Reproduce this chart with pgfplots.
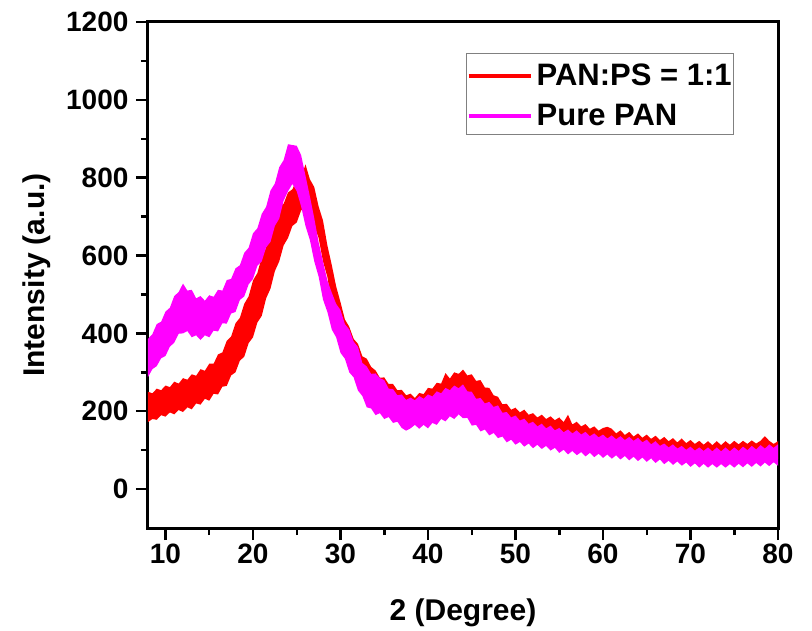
\documentclass[border=0pt]{standalone}
\usepackage{fontspec}
\setmainfont{Liberation Sans}
\usepackage{pgfplots}
\usepackage{pgfplotstable}
\pgfplotsset{compat=1.18}
\usepgfplotslibrary{fillbetween}
\definecolor{pmag}{rgb}{1,0,1}
\definecolor{pred}{rgb}{1,0,0}

\pgfplotstableread{
x ru rl pu pl
8.0 250 172 386 288
8.5 246 180 398 308
9.0 258 178 424 316
9.5 254 190 430 336
10.0 266 186 456 342
10.5 262 197 466 366
11.0 276 192 496 376
11.5 271 203 506 399
12.0 285 198 528 400
12.5 281 210 510 406
13.0 295 205 512 390
13.5 291 220 490 395
14.0 308 217 496 383
14.5 304 232 484 395
15.0 322 227 498 390
15.5 322 245 494 407
16.0 346 243 512 405
16.5 351 263 510 426
17.0 381 265 537 425
17.5 392 292 540 451
18.0 426 300 567 455
18.5 440 330 575 486
19.0 476 340 607 495
19.5 495 375 620 526
20.0 536 390 657 540
20.5 555 428 670 574
21.0 596 445 707 585
21.5 620 490 725 621
22.0 666 515 767 635
22.5 685 560 785 676
23.0 726 585 827 695
23.5 733 626 845 741
24.0 762 645 886 765
24.5 770 676 884 784
25.0 796 685 882 765
25.5 800 716 858 726
26.0 834 725 805 676
26.5 796 715 752 640
27.0 776 676 696 585
27.5 726 645 634 546
28.0 690 585 585 487
28.5 626 545 536 455
29.0 576 476 505 410
29.5 521 440 476 390
30.0 480 381 460 350
30.5 436 355 424 335
31.0 417 318 410 300
31.5 386 305 379 287
32.0 373 274 365 253
32.5 341 260 324 239
33.0 335 236 315 210
33.5 314 233 296 207
34.0 305 206 297 190
34.5 286 210 285 195
35.0 287 196 280 180
35.5 270 200 258 185
36.0 270 186 257 170
36.5 254 188 241 173
37.0 255 173 243 157
37.5 241 175 229 150
38.0 245 169 235 156
38.5 234 180 228 165
39.0 247 171 239 155
39.5 244 180 232 165
40.0 260 172 243 156
40.5 258 185 238 170
41.0 273 181 251 165
41.5 271 195 246 180
42.0 298 190 260 174
42.5 284 203 254 187
43.0 300 201 266 180
43.5 296 215 259 192
44.0 307 208 269 182
44.5 292 211 251 183
45.0 295 196 250 163
45.5 278 197 232 165
46.0 280 181 234 148
46.5 261 180 220 153
47.0 260 161 224 138
47.5 241 160 211 144
48.0 237 147 215 131
48.5 218 150 196 135
49.0 219 136 198 120
49.5 204 142 184 127
50.0 209 130 189 114
50.5 197 136 176 121
51.0 204 125 181 109
51.5 191 132 168 117
52.0 195 121 173 105
52.5 184 128 161 114
53.0 191 119 168 103
53.5 180 126 156 111
54.0 187 115 163 99
54.5 177 121 151 106
55.0 184 109 157 93
55.5 172 116 146 101
56.0 191 105 153 89
56.5 166 112 143 98
57.0 173 103 151 87
57.5 161 110 140 95
58.0 167 100 147 84
58.5 155 108 136 93
59.0 161 98 143 82
59.5 150 106 133 91
60.0 157 96 140 80
60.5 160 104 130 89
61.0 155 94 138 78
61.5 143 102 128 87
62.0 151 92 136 76
62.5 139 100 126 85
63.0 147 90 134 74
63.5 135 97 124 83
64.0 143 88 132 72
64.5 132 95 120 81
65.0 140 86 127 70
65.5 129 92 115 79
66.0 137 83 123 67
66.5 126 90 111 76
67.0 134 80 117 64
67.5 123 88 107 73
68.0 131 78 115 62
68.5 120 86 104 71
69.0 130 76 111 60
69.5 118 84 101 68
70.0 126 73 109 57
70.5 116 82 99 66
71.0 124 71 107 55
71.5 114 80 98 65
72.0 123 62 107 55
72.5 113 80 97 64
73.0 123 71 107 55
73.5 113 80 97 64
74.0 123 71 107 55
74.5 114 81 97 64
75.0 124 72 107 55
75.5 115 82 98 65
76.0 124 73 109 56
76.5 116 83 100 66
77.0 125 74 111 57
77.5 117 84 102 67
78.0 124 75 113 58
78.5 136 85 104 68
79.0 124 76 115 59
79.5 116 86 106 69
80.0 123 77 115 60
}\xrd

\begin{document}
\begin{tikzpicture}
\path (-148pt,-102pt) (664pt,528pt);
\begin{axis}[
  at={(0pt,0pt)}, anchor=south west,
  scale only axis, width=630pt, height=506pt,
  xmin=8, xmax=80, ymin=-100, ymax=1200,
  xtick={10,20,...,80}, ytick={0,200,...,1200},
  minor tick num=1,
  tick pos=left, tick align=outside,
  major tick length=12pt, minor tick length=7pt,
  every tick/.style={black, line width=2.5pt},
  axis line style={black, line width=3pt},
  /pgf/number format/assume math mode=true,
  /pgf/number format/1000 sep={},
  tick label style={font=\fontsize{28}{30}\selectfont\bfseries},
  yticklabel style={xshift=-4pt},
  label style={font=\fontsize{30}{32}\selectfont\bfseries},
  xlabel={2 (Degree)},
  ylabel={Intensity (a.u.)},
  xlabel style={yshift=-28pt},
  ylabel style={yshift=9pt},
  legend cell align=left,
  legend image code/.code={\draw[#1] (0pt,-2.5pt) -- (62pt,-2.5pt);},
  legend style={at={(0.505,0.939)}, anchor=north west,
    draw=gray, line width=1pt, inner xsep=0pt, inner ysep=0.5pt,
    column sep=2pt,
    font=\fontsize{31}{33}\selectfont\bfseries,
    nodes={text height=24pt, text depth=1pt, inner ysep=7.5pt, inner xsep=2pt}},
]
\addplot[draw=none, name path=ru, forget plot] table[x=x,y=ru]{\xrd};
\addplot[draw=none, name path=rl, forget plot] table[x=x,y=rl]{\xrd};
\addplot[fill=pred, draw=none, forget plot] fill between[of=ru and rl];
\addplot[draw=none, name path=pu, forget plot] table[x=x,y=pu]{\xrd};
\addplot[draw=none, name path=pl, forget plot] table[x=x,y=pl]{\xrd};
\addplot[fill=pmag, draw=none, forget plot] fill between[of=pu and pl];
\addlegendimage{pred, line width=4pt}
\addlegendentry{PAN:PS = 1:1\hspace{5pt}}
\addlegendimage{pmag, line width=4pt}
\addlegendentry{Pure PAN}
\end{axis}
\end{tikzpicture}
\end{document}
